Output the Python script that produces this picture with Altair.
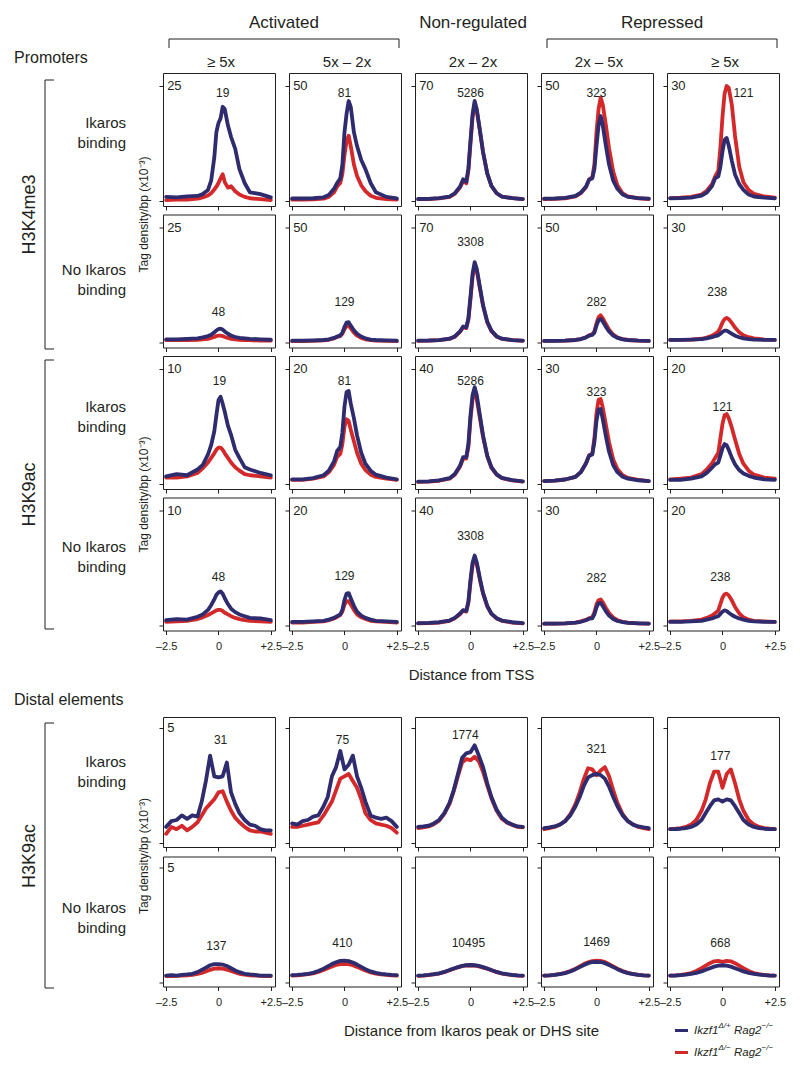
import altair as alt
import pandas as pd

FONT = "Liberation Sans"
INK = "#231f20"
BLUE = "#2e2b6e"
RED = "#d3292a"

# ---------------- x positions (kb) ----------------
XP = [-2.5, -2.0, -1.5, -1.0, -0.75, -0.5, -0.35, -0.2, -0.1, 0.0, 0.1, 0.2, 0.3, 0.45, 0.6, 0.8, 1.0, 1.25, 1.5, 2.0, 2.5]
XD = [-2.5, -2.25, -2.0, -1.75, -1.5, -1.25, -1.0, -0.8, -0.6, -0.4, -0.2, 0.0, 0.2, 0.4, 0.6, 0.8, 1.0, 1.25, 1.5, 1.75, 2.0, 2.25, 2.5]

# ---------------- Promoters, H3K4me3, Ikaros binding ----------------
K4B_C1_BLUE = [1.0, 0.9, 1.1, 1.2, 1.6, 2.5, 4.5, 9.5, 15.0, 17.0, 18.0, 20.5, 20.0, 16.5, 14.0, 11.4, 7.0, 4.0, 2.0, 1.6, 0.9]
K4B_C1_RED = [0.3, 0.4, 0.4, 0.6, 0.9, 1.3, 1.8, 2.6, 3.2, 4.0, 5.0, 5.9, 4.2, 3.0, 3.3, 2.2, 1.5, 1.0, 0.7, 0.5, 0.3]
K4B_C2_BLUE = [1.3, 1.3, 1.4, 1.8, 2.8, 5.5, 8.0, 10.0, 16.0, 30.0, 38.0, 43.5, 41.0, 30.0, 24.0, 18.0, 14.0, 8.0, 4.0, 2.0, 1.3]
K4B_C2_RED = [0.8, 0.8, 0.9, 1.2, 2.0, 4.0, 6.5, 8.0, 12.0, 20.0, 26.0, 28.5, 24.0, 16.0, 11.0, 7.0, 4.5, 2.5, 1.6, 1.0, 0.8]
K4B_C3_BLUE = [1.5, 1.6, 2.0, 3.0, 5.0, 9.0, 13.5, 12.0, 20.0, 37.0, 53.0, 61.0, 56.0, 43.0, 30.0, 17.0, 9.5, 5.0, 3.0, 2.0, 1.5]
K4B_C3_RED = [1.4, 1.5, 1.9, 2.8, 4.6, 8.5, 12.5, 11.0, 18.5, 35.0, 51.0, 59.0, 55.0, 43.0, 30.0, 17.0, 9.5, 5.0, 3.0, 2.0, 1.4]
K4B_C4_BLUE = [1.2, 1.3, 1.6, 2.4, 3.8, 6.5, 9.5, 10.0, 14.0, 24.0, 33.0, 37.0, 33.0, 24.0, 16.0, 9.0, 5.5, 3.0, 2.0, 1.5, 1.2]
K4B_C4_RED = [1.0, 1.1, 1.4, 2.2, 3.6, 6.2, 9.5, 10.5, 16.0, 30.0, 40.0, 45.0, 42.0, 33.0, 23.0, 13.0, 7.0, 3.5, 2.2, 1.4, 1.0]
K4B_C5_BLUE = [0.8, 0.9, 1.0, 1.5, 2.3, 4.0, 6.0, 6.5, 9.0, 13.0, 16.0, 16.5, 14.5, 10.5, 7.0, 4.5, 3.0, 1.8, 1.3, 1.0, 0.8]
K4B_C5_RED = [0.9, 1.0, 1.2, 1.8, 2.8, 4.5, 6.5, 8.0, 14.0, 22.0, 28.0, 30.0, 29.5, 25.0, 17.0, 9.0, 5.0, 3.0, 2.0, 1.3, 1.0]

# ---------------- Promoters, H3K4me3, no Ikaros binding ----------------
K4U_C1_BLUE = [0.8, 0.8, 0.9, 1.0, 1.2, 1.5, 1.8, 2.3, 2.7, 3.0, 3.1, 2.9, 2.5, 2.0, 1.6, 1.3, 1.1, 1.0, 0.9, 0.8, 0.7]
K4U_C1_RED = [0.6, 0.6, 0.6, 0.7, 0.8, 0.9, 1.1, 1.3, 1.5, 1.6, 1.6, 1.5, 1.3, 1.1, 0.9, 0.8, 0.7, 0.6, 0.6, 0.5, 0.5]
K4U_C2_BLUE = [1.0, 1.0, 1.1, 1.3, 1.6, 2.2, 2.8, 3.3, 4.5, 7.0, 8.8, 9.0, 7.5, 5.5, 4.0, 2.8, 2.0, 1.5, 1.3, 1.1, 1.0]
K4U_C2_RED = [0.8, 0.8, 0.9, 1.1, 1.4, 2.0, 2.6, 3.0, 4.0, 6.0, 7.3, 7.5, 6.3, 4.5, 3.2, 2.2, 1.6, 1.2, 1.0, 0.9, 0.8]
K4U_C3_BLUE = [1.4, 1.5, 1.8, 2.6, 4.0, 7.0, 10.0, 9.5, 15.0, 28.0, 42.0, 49.0, 45.0, 34.0, 23.0, 13.0, 7.5, 4.0, 2.6, 1.8, 1.4]
K4U_C3_RED = [1.3, 1.4, 1.7, 2.5, 3.8, 6.7, 9.6, 9.0, 14.0, 26.5, 40.0, 47.0, 44.0, 33.0, 22.5, 12.5, 7.2, 3.9, 2.5, 1.7, 1.3]
K4U_C4_BLUE = [0.9, 0.9, 1.0, 1.3, 1.7, 2.4, 3.2, 3.5, 4.5, 7.5, 9.8, 10.5, 9.3, 7.0, 5.0, 3.2, 2.2, 1.6, 1.3, 1.0, 0.9]
K4U_C4_RED = [0.9, 0.9, 1.0, 1.3, 1.7, 2.5, 3.3, 3.8, 5.0, 8.5, 11.2, 12.0, 10.8, 8.2, 5.8, 3.6, 2.4, 1.7, 1.3, 1.0, 0.9]
K4U_C5_BLUE = [0.8, 0.8, 0.9, 1.0, 1.2, 1.5, 1.8, 2.0, 2.4, 2.9, 3.2, 3.2, 2.9, 2.4, 1.9, 1.5, 1.2, 1.0, 0.9, 0.8, 0.8]
K4U_C5_RED = [0.8, 0.8, 0.9, 1.1, 1.4, 1.9, 2.4, 3.0, 4.0, 5.3, 6.2, 6.5, 6.2, 5.2, 4.0, 2.8, 2.0, 1.5, 1.2, 0.9, 0.8]

# ---------------- Promoters, H3K9ac, Ikaros binding ----------------
K9B_C1_BLUE = [0.7, 0.9, 0.8, 1.3, 1.7, 2.6, 3.4, 4.6, 6.0, 7.3, 7.6, 7.0, 6.3, 5.1, 4.3, 3.0, 2.3, 1.5, 1.3, 1.0, 0.8]
K9B_C1_RED = [0.6, 0.6, 0.7, 1.0, 1.4, 1.9, 2.3, 2.7, 3.0, 3.2, 3.2, 3.0, 2.7, 2.3, 1.9, 1.5, 1.2, 0.9, 0.8, 0.7, 0.6]
K9B_C2_BLUE = [0.9, 0.9, 1.1, 1.6, 2.4, 4.0, 5.8, 6.5, 9.0, 13.5, 16.0, 16.2, 14.0, 11.5, 8.5, 5.5, 3.6, 2.4, 1.7, 1.2, 0.9]
K9B_C2_RED = [0.8, 0.8, 1.0, 1.4, 2.1, 3.4, 4.8, 5.3, 7.0, 10.0, 11.3, 11.0, 9.5, 7.5, 5.5, 3.6, 2.5, 1.7, 1.3, 1.0, 0.8]
K9B_C3_BLUE = [1.0, 1.1, 1.4, 2.2, 3.6, 6.5, 9.5, 9.5, 14.0, 24.0, 31.0, 33.7, 31.0, 24.0, 17.0, 10.0, 6.0, 3.5, 2.3, 1.5, 1.1]
K9B_C3_RED = [0.9, 1.0, 1.3, 2.0, 3.4, 6.2, 9.0, 9.0, 13.0, 22.5, 29.5, 32.0, 29.5, 23.0, 16.5, 9.8, 5.8, 3.4, 2.2, 1.4, 1.0]
K9B_C4_BLUE = [0.9, 1.0, 1.3, 2.0, 3.2, 5.5, 7.5, 7.8, 11.0, 16.5, 19.5, 19.6, 17.0, 12.5, 8.5, 5.0, 3.2, 2.0, 1.5, 1.1, 0.9]
K9B_C4_RED = [0.9, 1.0, 1.3, 2.0, 3.2, 5.5, 7.6, 8.0, 12.0, 18.5, 22.0, 22.2, 20.0, 15.5, 11.0, 6.5, 4.0, 2.4, 1.7, 1.2, 0.9]
K9B_C5_BLUE = [0.8, 0.8, 1.0, 1.4, 2.0, 2.9, 3.5, 3.8, 5.0, 6.3, 7.0, 6.8, 6.0, 4.6, 3.5, 2.5, 1.9, 1.5, 1.2, 0.9, 0.8]
K9B_C5_RED = [0.9, 1.0, 1.2, 1.8, 2.6, 3.7, 4.6, 5.5, 8.0, 10.5, 12.0, 12.2, 11.5, 9.8, 7.8, 5.3, 3.6, 2.4, 1.7, 1.2, 1.0]

# ---------------- Promoters, H3K9ac, no Ikaros binding ----------------
K9U_C1_BLUE = [0.5, 0.6, 0.55, 0.8, 1.0, 1.4, 1.8, 2.3, 2.7, 2.9, 3.0, 2.8, 2.4, 1.9, 1.5, 1.2, 1.0, 0.85, 0.7, 0.65, 0.5]
K9U_C1_RED = [0.35, 0.4, 0.45, 0.6, 0.75, 0.95, 1.1, 1.25, 1.35, 1.4, 1.4, 1.3, 1.15, 1.0, 0.85, 0.7, 0.6, 0.5, 0.45, 0.4, 0.35]
K9U_C2_BLUE = [0.7, 0.7, 0.8, 0.9, 1.1, 1.4, 1.7, 2.0, 2.8, 4.5, 5.6, 5.7, 4.8, 3.5, 2.5, 1.8, 1.4, 1.1, 0.9, 0.8, 0.7]
K9U_C2_RED = [0.6, 0.6, 0.7, 0.8, 1.0, 1.3, 1.6, 1.9, 2.5, 3.7, 4.3, 4.3, 3.7, 2.8, 2.0, 1.5, 1.2, 0.9, 0.8, 0.7, 0.6]
K9U_C3_BLUE = [1.0, 1.1, 1.3, 1.9, 2.8, 4.3, 5.5, 5.2, 8.5, 16.0, 22.0, 24.4, 22.0, 16.5, 11.5, 7.0, 4.3, 2.7, 1.9, 1.3, 1.0]
K9U_C3_RED = [0.9, 1.0, 1.2, 1.8, 2.7, 4.1, 5.3, 5.0, 8.0, 15.0, 21.0, 23.5, 21.5, 16.0, 11.2, 6.8, 4.2, 2.6, 1.8, 1.2, 0.9]
K9U_C4_BLUE = [0.6, 0.6, 0.7, 0.9, 1.1, 1.5, 1.9, 2.0, 3.0, 4.8, 5.9, 6.0, 5.2, 3.8, 2.7, 1.8, 1.3, 1.0, 0.8, 0.7, 0.6]
K9U_C4_RED = [0.6, 0.6, 0.7, 0.9, 1.2, 1.6, 2.0, 2.3, 3.5, 5.6, 6.7, 6.9, 6.2, 4.7, 3.4, 2.2, 1.5, 1.1, 0.9, 0.7, 0.6]
K9U_C5_BLUE = [0.7, 0.7, 0.8, 0.9, 1.1, 1.3, 1.5, 1.7, 2.1, 2.5, 2.7, 2.6, 2.3, 1.9, 1.6, 1.3, 1.1, 0.9, 0.8, 0.7, 0.7]
K9U_C5_RED = [0.8, 0.8, 0.9, 1.1, 1.4, 1.8, 2.2, 2.7, 3.8, 4.9, 5.5, 5.6, 5.3, 4.4, 3.3, 2.2, 1.5, 1.1, 0.9, 0.8, 0.7]

# ---------------- Distal elements, H3K9ac, Ikaros binding ----------------
DB_C1_BLUE = [0.7, 0.95, 1.0, 1.2, 1.05, 1.2, 1.15, 1.8, 2.7, 3.8, 2.9, 2.85, 2.9, 3.5, 2.2, 1.7, 1.3, 1.0, 0.8, 0.75, 0.6, 0.55, 0.55]
DB_C1_RED = [0.4, 0.7, 0.6, 0.75, 0.55, 0.7, 0.9, 1.2, 1.5, 1.7, 1.9, 2.2, 2.25, 1.8, 1.4, 1.1, 0.9, 0.7, 0.55, 0.5, 0.5, 0.45, 0.4]
DB_C2_BLUE = [0.85, 0.8, 0.95, 1.0, 1.15, 1.2, 1.6, 2.0, 2.9, 3.3, 4.0, 3.2, 3.4, 3.8, 2.9, 2.4, 1.8, 1.2, 1.1, 1.05, 1.1, 0.95, 0.7]
DB_C2_RED = [0.7, 0.7, 0.75, 0.8, 0.85, 0.9, 1.2, 1.5, 1.8, 2.3, 2.8, 2.9, 3.0, 2.7, 2.4, 1.9, 1.3, 1.0, 0.85, 0.8, 0.75, 0.65, 0.45]
DB_C3_BLUE = [0.7, 0.72, 0.75, 0.85, 1.0, 1.3, 1.75, 2.3, 3.0, 3.7, 3.9, 3.95, 4.25, 3.8, 3.3, 2.6, 2.0, 1.45, 1.1, 0.9, 0.8, 0.72, 0.7]
DB_C3_RED = [0.65, 0.68, 0.72, 0.82, 0.97, 1.27, 1.7, 2.25, 2.9, 3.5, 3.65, 3.6, 3.75, 3.55, 3.1, 2.5, 1.95, 1.4, 1.05, 0.88, 0.78, 0.7, 0.68]
DB_C4_BLUE = [0.65, 0.68, 0.72, 0.8, 0.95, 1.2, 1.6, 2.0, 2.5, 2.85, 2.95, 3.0, 2.95, 2.8, 2.45, 2.0, 1.6, 1.2, 0.95, 0.8, 0.72, 0.68, 0.65]
DB_C4_RED = [0.6, 0.65, 0.7, 0.8, 0.95, 1.25, 1.7, 2.2, 2.8, 3.25, 3.2, 2.95, 3.15, 3.3, 2.9, 2.3, 1.75, 1.25, 0.95, 0.8, 0.7, 0.65, 0.6]
DB_C5_BLUE = [0.6, 0.6, 0.62, 0.65, 0.7, 0.8, 1.0, 1.3, 1.6, 1.85, 1.9, 1.8, 1.9, 1.85, 1.6, 1.3, 1.0, 0.8, 0.7, 0.65, 0.62, 0.6, 0.6]
DB_C5_RED = [0.6, 0.62, 0.65, 0.7, 0.8, 1.0, 1.4, 1.9, 2.6, 3.1, 3.1, 2.4, 3.0, 3.2, 2.6, 1.9, 1.4, 1.0, 0.8, 0.7, 0.65, 0.62, 0.6]

# ---------------- Distal elements, H3K9ac, no Ikaros binding ----------------
DU_C1_BLUE = [0.3, 0.32, 0.3, 0.33, 0.35, 0.38, 0.45, 0.55, 0.65, 0.75, 0.8, 0.8, 0.78, 0.72, 0.62, 0.52, 0.45, 0.38, 0.35, 0.33, 0.3, 0.3, 0.3]
DU_C1_RED = [0.28, 0.28, 0.29, 0.3, 0.31, 0.33, 0.37, 0.42, 0.48, 0.55, 0.6, 0.62, 0.6, 0.56, 0.5, 0.44, 0.38, 0.34, 0.31, 0.3, 0.29, 0.28, 0.28]
DU_C2_BLUE = [0.32, 0.33, 0.35, 0.38, 0.42, 0.5, 0.6, 0.7, 0.8, 0.88, 0.94, 0.95, 0.93, 0.87, 0.78, 0.68, 0.58, 0.48, 0.42, 0.38, 0.35, 0.33, 0.32]
DU_C2_RED = [0.3, 0.31, 0.33, 0.36, 0.4, 0.46, 0.54, 0.62, 0.7, 0.76, 0.8, 0.81, 0.8, 0.75, 0.68, 0.6, 0.52, 0.44, 0.39, 0.35, 0.33, 0.31, 0.3]
DU_C3_BLUE = [0.3, 0.31, 0.33, 0.36, 0.4, 0.46, 0.54, 0.61, 0.67, 0.72, 0.75, 0.76, 0.75, 0.72, 0.67, 0.61, 0.54, 0.46, 0.4, 0.36, 0.33, 0.31, 0.3]
DU_C3_RED = [0.29, 0.3, 0.32, 0.35, 0.39, 0.45, 0.53, 0.6, 0.66, 0.71, 0.74, 0.74, 0.73, 0.7, 0.65, 0.6, 0.53, 0.45, 0.39, 0.35, 0.32, 0.3, 0.29]
DU_C4_BLUE = [0.3, 0.31, 0.33, 0.36, 0.41, 0.48, 0.58, 0.67, 0.76, 0.84, 0.89, 0.9, 0.89, 0.84, 0.76, 0.67, 0.58, 0.48, 0.41, 0.36, 0.33, 0.31, 0.3]
DU_C4_RED = [0.3, 0.31, 0.33, 0.37, 0.42, 0.5, 0.6, 0.7, 0.8, 0.88, 0.93, 0.95, 0.94, 0.89, 0.8, 0.7, 0.6, 0.5, 0.42, 0.37, 0.33, 0.31, 0.3]
DU_C5_BLUE = [0.3, 0.3, 0.32, 0.34, 0.37, 0.42, 0.48, 0.55, 0.62, 0.69, 0.73, 0.75, 0.73, 0.69, 0.62, 0.55, 0.48, 0.42, 0.37, 0.34, 0.32, 0.3, 0.3]
DU_C5_RED = [0.3, 0.31, 0.33, 0.36, 0.41, 0.5, 0.62, 0.73, 0.84, 0.92, 0.94, 0.9, 0.94, 0.92, 0.84, 0.73, 0.62, 0.5, 0.41, 0.36, 0.33, 0.31, 0.3]

# ---------------- labels ----------------
GROUP_LABELS = ["Activated", "Non-regulated", "Repressed"]
COL_LABELS = ["≥ 5x", "5x – 2x", "2x – 2x", "2x – 5x", "≥ 5x"]
ROW_LABELS = [["Ikaros", "binding"], ["No Ikaros", "binding"]]
PROM_MARKS = ["H3K4me3", "H3K9ac"]
YTITLE = "Tag density/bp (x10⁻³)"

PROM_MAX = [[25, 50, 70, 50, 30], [25, 50, 70, 50, 30], [10, 20, 40, 30, 20], [10, 20, 40, 30, 20]]
PROM_N = [[19, 81, 5286, 323, 121], [48, 129, 3308, 282, 238], [19, 81, 5286, 323, 121], [48, 129, 3308, 282, 238]]
PROM_N_Y = [[23.5, 47, 66, 47, 28.2], [6.8, 17.8, 61.5, 17.8, 13.3], [9.0, 18.0, 36.0, 24.0, 13.4], [4.2, 8.6, 31.2, 12.5, 8.5]]
PROM_N_X = [[0.2, 0.0, 0.0, 0.0, 1.0], [0.0, 0.0, 0.0, 0.0, -0.25], [0.05, 0.0, 0.0, 0.0, 0.0], [0.0, 0.0, 0.0, 0.0, -0.1]]
DIST_MAX = 5
DIST_N = [[31, 75, 1774, 321, 177], [137, 410, 10495, 1469, 668]]
DIST_N_Y = [[4.5, 4.5, 4.7, 4.1, 3.8], [1.57, 1.7, 1.7, 1.78, 1.7]]
DIST_N_X = [[0.1, -0.1, -0.25, 0.0, -0.1], [-0.1, -0.1, -0.1, 0.0, -0.1]]

PROM_CURVES = [
    [(K4B_C1_RED, K4B_C1_BLUE), (K4B_C2_RED, K4B_C2_BLUE), (K4B_C3_RED, K4B_C3_BLUE), (K4B_C4_RED, K4B_C4_BLUE), (K4B_C5_RED, K4B_C5_BLUE)],
    [(K4U_C1_RED, K4U_C1_BLUE), (K4U_C2_RED, K4U_C2_BLUE), (K4U_C3_RED, K4U_C3_BLUE), (K4U_C4_RED, K4U_C4_BLUE), (K4U_C5_RED, K4U_C5_BLUE)],
    [(K9B_C1_RED, K9B_C1_BLUE), (K9B_C2_RED, K9B_C2_BLUE), (K9B_C3_RED, K9B_C3_BLUE), (K9B_C4_RED, K9B_C4_BLUE), (K9B_C5_RED, K9B_C5_BLUE)],
    [(K9U_C1_RED, K9U_C1_BLUE), (K9U_C2_RED, K9U_C2_BLUE), (K9U_C3_RED, K9U_C3_BLUE), (K9U_C4_RED, K9U_C4_BLUE), (K9U_C5_RED, K9U_C5_BLUE)],
]
DIST_CURVES = [
    [(DB_C1_RED, DB_C1_BLUE), (DB_C2_RED, DB_C2_BLUE), (DB_C3_RED, DB_C3_BLUE), (DB_C4_RED, DB_C4_BLUE), (DB_C5_RED, DB_C5_BLUE)],
    [(DU_C1_RED, DU_C1_BLUE), (DU_C2_RED, DU_C2_BLUE), (DU_C3_RED, DU_C3_BLUE), (DU_C4_RED, DU_C4_BLUE), (DU_C5_RED, DU_C5_BLUE)],
]

# ---------------- layout constants ----------------
PW = 112
PH = 133
DH = 130
HGAP = 14
VGAP = 2.5
DVGAP = 3.5
STEP_X = PW + HGAP
COL0 = 156          # chart x of first panel
LEFT_W = 142
LEFT_SP = 2
TOP_OFF = 5         # panels sit this far below the top of their block
LINE_W = 3.8
PROM_LABEL_OFF = [45, 52, 49, 49]   # first-line offset of the row labels
DIST_LABEL_OFF = [40, 48]

XTICK_EXPR = "datum.value < 0 ? '–2.5' : (datum.value > 0 ? '+2.5' : '0')"

DUMMY = pd.DataFrame({"a": [0]})


def panel(xs, red, blue, ymax, n, nx, ny, show_max, show_xlabels, height, lo, hi, xtitle=None, extra=None):
    xscale = alt.Scale(domain=[-2.65, 2.7], nice=False, zero=False)
    yscale = alt.Scale(domain=[lo * ymax, hi * ymax], nice=False, zero=False)
    xaxis = alt.Axis(values=[-2.5, 0, 2.5], tickSize=4, domain=False, grid=False,
                     labels=show_xlabels, labelFlush=False, labelExpr=XTICK_EXPR,
                     labelPadding=6, labelFontSize=11, title=xtitle, titlePadding=16)
    yaxis = alt.Axis(values=[0, ymax], tickSize=4, domain=False, grid=False, labels=False, title=None)
    X = alt.X("x:Q", scale=xscale, axis=xaxis)
    Y = alt.Y("y:Q", scale=yscale, axis=yaxis)
    red_line = alt.Chart(pd.DataFrame({"x": xs, "y": red})).mark_line(
        color=RED, strokeWidth=LINE_W, strokeJoin="round", strokeCap="round").encode(x=X, y=Y)
    blue_line = alt.Chart(pd.DataFrame({"x": xs, "y": blue})).mark_line(
        color=BLUE, strokeWidth=LINE_W, strokeJoin="round", strokeCap="round").encode(x=X, y=Y)
    n_text = alt.Chart(pd.DataFrame({"x": [nx], "y": [ny], "t": [str(n)]})).mark_text(
        fontSize=12, font=FONT, color=INK, align="center", baseline="middle").encode(x=X, y=Y, text="t:N")
    layers = [red_line, blue_line, n_text]
    if show_max:
        layers.append(alt.Chart(pd.DataFrame({"x": [-2.5], "y": [ymax], "t": [str(ymax)]})).mark_text(
            fontSize=13, font=FONT, color=INK, align="left", baseline="middle", dx=1).encode(x=X, y=Y, text="t:N"))
    if extra:
        layers.extend(extra)
    return alt.layer(*layers).properties(width=PW, height=height)


def txt(text, x, y, size, align="left", angle=0, style="normal", color=INK):
    kw = dict(text=text, fontSize=size, font=FONT, color=color, align=align, baseline="middle", fontStyle=style)
    if angle:
        kw["angle"] = angle
    return alt.Chart(DUMMY).mark_text(**kw).encode(x=alt.value(x), y=alt.value(y))


def rule(x1, y1, x2, y2, color=INK, width=1):
    return alt.Chart(DUMMY).mark_rule(color=color, strokeWidth=width).encode(
        x=alt.value(x1), y=alt.value(y1), x2=alt.value(x2), y2=alt.value(y2))


def frame(w, h):
    return alt.Chart(DUMMY).mark_rect(opacity=0).encode(
        x=alt.value(0), y=alt.value(0), x2=alt.value(w), y2=alt.value(h))


def deco(w, h, layers):
    return alt.layer(frame(w, h), *layers).properties(
        width=w, height=h, view=alt.ViewBackground(stroke="transparent"))


# ---------------- header ----------------
col_left = [COL0 + STEP_X * i for i in range(5)]
col_mid = [c + PW / 2 for c in col_left]
HEAD_H = 62
head_layers = [txt("Promoters", 5, 49, 16)]
head_layers.append(txt(GROUP_LABELS[0], (col_left[0] + col_left[1] + PW) / 2, 14, 17, "center"))
head_layers.append(txt(GROUP_LABELS[1], col_mid[2], 14, 17, "center"))
head_layers.append(txt(GROUP_LABELS[2], (col_left[3] + col_left[4] + PW) / 2, 14, 17, "center"))
for a, b in [(0, 1), (3, 4)]:
    x1 = col_left[a] + 4
    x2 = col_left[b] + PW - 4
    head_layers += [rule(x1, 30, x2, 30), rule(x1, 30, x1, 39), rule(x2, 30, x2, 39)]
for i, lab in enumerate(COL_LABELS):
    head_layers.append(txt(lab, col_mid[i], 53, 15, "center"))
header = deco(772, HEAD_H, head_layers)

# ---------------- promoters block ----------------
PROM_STEP = PH + 7
PROM_LEFT_H = 642
pl = []
for g in range(2):
    top = TOP_OFF + g * 2 * PROM_STEP
    gh = 2 * PH + 7
    pl.append(txt(PROM_MARKS[g], 21, top + gh / 2, 18, "center", angle=270))
    pl += [rule(36, top + 2, 36, top + gh - 2), rule(36, top + 2, 45, top + 2), rule(36, top + gh - 2, 45, top + gh - 2)]
    for k in range(2):
        rt = top + k * PROM_STEP
        off = PROM_LABEL_OFF[2 * g + k]
        pl.append(txt(ROW_LABELS[k][0], 117, rt + off, 15, "right"))
        pl.append(txt(ROW_LABELS[k][1], 117, rt + off + 20, 15, "right"))
    pl.append(txt(YTITLE, 135, top + gh / 2, 12, "center", angle=270))
pl.append(txt("Distal elements", 5, 627, 16))
prom_left = deco(LEFT_W, PROM_LEFT_H, pl)

prom_rows = []
for r in range(4):
    panels = []
    for c in range(5):
        red, blue = PROM_CURVES[r][c]
        panels.append(panel(XP, red, blue, PROM_MAX[r][c], PROM_N[r][c], PROM_N_X[r][c], PROM_N_Y[r][c],
                            True, r == 3, PH, -0.039, 1.1126,
                            xtitle="Distance from TSS" if (r == 3 and c == 2) else None))
    prom_rows.append(alt.hconcat(*panels, spacing=HGAP, bounds="flush"))
prom_grid = alt.vconcat(*prom_rows, spacing=VGAP)
prom_block = alt.hconcat(prom_left, prom_grid, spacing=LEFT_SP)

# ---------------- distal block ----------------
DIST_STEP = DH + 8
dl = []
gh = 2 * DH + 8
dl.append(txt("H3K9ac", 21, TOP_OFF + gh / 2, 18, "center", angle=270))
dl += [rule(36, TOP_OFF + 1, 36, TOP_OFF + gh - 2), rule(36, TOP_OFF + 1, 45, TOP_OFF + 1),
       rule(36, TOP_OFF + gh - 2, 45, TOP_OFF + gh - 2)]
for k in range(2):
    rt = TOP_OFF + k * DIST_STEP
    off = DIST_LABEL_OFF[k]
    dl.append(txt(ROW_LABELS[k][0], 117, rt + off, 15, "right"))
    dl.append(txt(ROW_LABELS[k][1], 117, rt + off + 20, 15, "right"))
dl.append(txt(YTITLE, 135, TOP_OFF + gh / 2, 12, "center", angle=270))
dist_left = deco(LEFT_W, gh + TOP_OFF, dl)

# legend (drawn below the last panel)
LEG_Y = [174, 196]
LEG_SUP = ["Δ/+", "Δ/−"]
legend_layers = []
for i, col in enumerate([BLUE, RED]):
    y = LEG_Y[i]
    legend_layers.append(rule(8, y, 21, y, color=col, width=3))
    legend_layers.append(txt("Ikzf1", 27, y, 11.5, style="italic"))
    legend_layers.append(txt(LEG_SUP[i], 51.5, y - 5, 8, style="italic"))
    legend_layers.append(txt("Rag2", 67, y, 11.5, style="italic"))
    legend_layers.append(txt("−/−", 94.5, y - 5, 8, style="italic"))

dist_rows = []
for r in range(2):
    panels = []
    for c in range(5):
        red, blue = DIST_CURVES[r][c]
        panels.append(panel(XD, red, blue, DIST_MAX, DIST_N[r][c], DIST_N_X[r][c], DIST_N_Y[r][c],
                            c == 0, r == 1, DH, -0.0348, 1.0957,
                            xtitle="Distance from Ikaros peak or DHS site" if (r == 1 and c == 2) else None,
                            extra=legend_layers if (r == 1 and c == 4) else None))
    dist_rows.append(alt.hconcat(*panels, spacing=HGAP, bounds="flush"))
dist_grid = alt.vconcat(*dist_rows, spacing=DVGAP)
dist_block = alt.hconcat(dist_left, dist_grid, spacing=LEFT_SP)

chart = alt.vconcat(header, prom_block, dist_block, spacing=0).properties(
    padding={"left": 0, "top": 0, "right": 0, "bottom": 0}
).configure_view(
    stroke=INK, strokeWidth=1
).configure_axis(
    labelFont=FONT, titleFont=FONT, labelColor=INK, titleColor=INK, tickColor=INK,
    tickWidth=1, titleFontWeight="normal", titleFontSize=15, minExtent=0
).configure_text(font=FONT, color=INK)

chart.save("out.html", embed_options={"renderer": "svg", "actions": False})
